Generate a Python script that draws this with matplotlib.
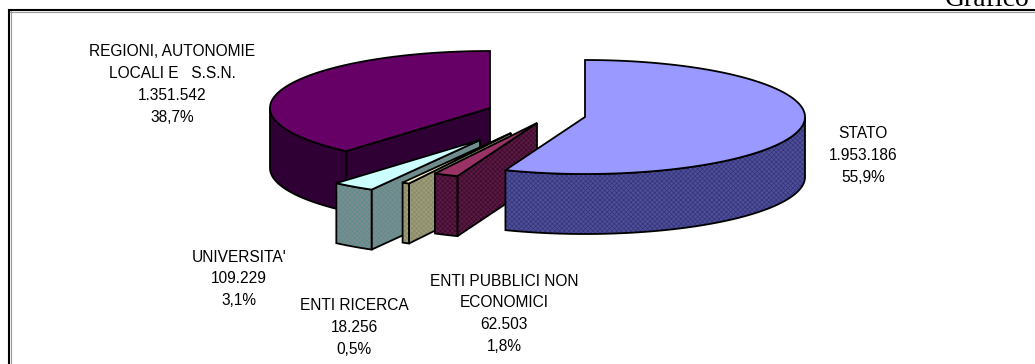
#!/usr/bin/env python3

import numpy as np
import matplotlib
matplotlib.use('Agg')

import matplotlib.pyplot as plt
from matplotlib.patches import Polygon

# clockwise from 12 o'clock
names = ['STATO', 'ENTI PUBBLICI NON\nECONOMICI', 'ENTI RICERCA', "UNIVERSITA'",
         'REGIONI, AUTONOMIE\nLOCALI E   S.S.N.']
values = [1953186, 62503, 18256, 109229, 1351542]
value_labels = ['1.953.186', '62.503', '18.256', '109.229', '1.351.542']
pct_labels = ['55,9%', '1,8%', '0,5%', '3,1%', '38,7%']

# layout, one per slice
centers = [(585, 117), (537, 123), (511, 133), (480, 140), (490, 108)]
top_colors = ['#9999ff', '#993366', '#ffffcc', '#ccffff', '#660066']
side_colors = ['#4f4f96', '#5c1a40', '#8c8c68', '#648c8c', '#2e0033']
dither_colors = ['#33337f', '#3a0a30', '#a0a080', '#808c90', None]
label_pos = [(863, 134), (504, 281), (354, 306), (239, 257), (172, 52)]
draw_order = [4, 3, 2, 1, 0]

A = 220
B = 57
DEPTH = 60
OUTLINE = 1.3


def point(c, deg):
    t = np.radians(deg)
    return c[0] + A * np.sin(t), c[1] - B * np.cos(t)


def arc(c, a0, a1):
    t = np.linspace(a0, a1, max(int(abs(a1 - a0)) * 2, 2))
    x, y = point(c, t)
    return np.column_stack([x, y])


def side(ax, pts, color, dither):
    low = pts[::-1] + [0, DEPTH]
    poly = np.vstack([pts, low])
    if dither:
        ax.add_patch(Polygon(poly, facecolor=color, edgecolor=dither,
                             hatch='xxxxxxx', linewidth=0))
    else:
        ax.add_patch(Polygon(poly, facecolor=color, edgecolor='none'))
    ax.add_patch(Polygon(poly, fill=False, edgecolor='black', linewidth=OUTLINE))


def slice3d(ax, c, a0, a1, top, color, dither):
    # cut face on the start angle, only seen on the left half
    if np.sin(np.radians(a0)) < -1e-6:
        side(ax, np.array([c, point(c, a0)]), color, dither)

    # round outer wall, only the part facing the viewer
    lo, hi = max(a0, 90), min(a1, 270)
    if lo < hi:
        side(ax, arc(c, lo, hi), color, dither)

    pts = np.vstack([[c], arc(c, a0, a1)])
    ax.add_patch(Polygon(pts, facecolor=top, edgecolor='black', linewidth=OUTLINE))


plt.rcParams['font.family'] = ['Liberation Sans', 'DejaVu Sans']
plt.rcParams['hatch.linewidth'] = 0.5

fig = plt.figure(figsize=(10.35, 3.64), dpi=100)
ax = fig.add_axes([0, 0, 1, 1])
ax.set_xlim(0, 1035)
ax.set_ylim(364, 0)
ax.axis('off')

# frame: top and left only, the picture is cropped on the other sides
ax.plot([9, 1035], [11.5, 11.5], color='#999999', lw=0.8, solid_capstyle='butt')
ax.plot([10.5, 10.5], [10, 364], color='#999999', lw=0.8, solid_capstyle='butt')
ax.plot([8, 1035], [10, 10], color='black', lw=1.5, solid_capstyle='butt')
ax.plot([9, 9], [9, 364], color='black', lw=1.5, solid_capstyle='butt')

# cut by the top edge in the reference too
ax.text(945, 5.5, 'Grafico', family=['Liberation Serif', 'DejaVu Serif'], fontsize=20,
        ha='left', va='baseline', color='black')

ends = np.cumsum(values) / sum(values) * 360
starts = np.concatenate([[0], ends[:-1]])

for i in draw_order:
    slice3d(ax, centers[i], starts[i], ends[i], top_colors[i], side_colors[i], dither_colors[i])

for i in range(len(names)):
    lines = names[i].split('\n') + [value_labels[i], pct_labels[i]]
    x, y = label_pos[i]
    for j, line in enumerate(lines):
        ax.text(x, y + j * 21.7, line, fontsize=11.2, ha='center', va='center', color='black')

fig.savefig('out.png', dpi=100)
